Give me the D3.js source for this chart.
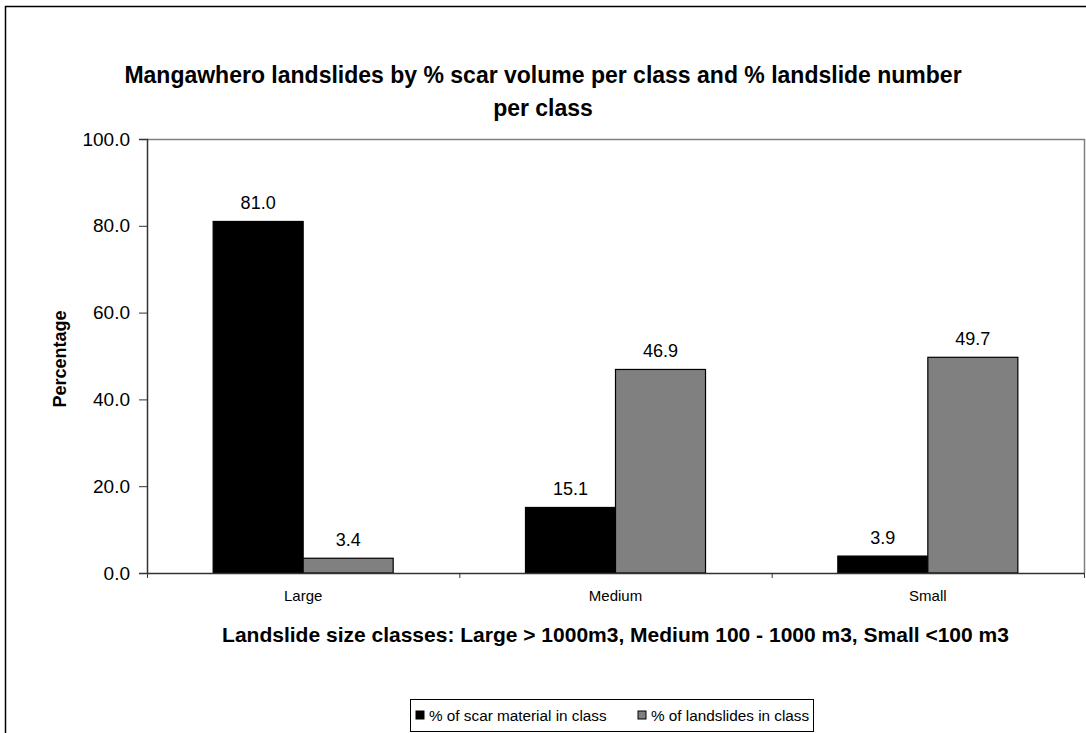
<!DOCTYPE html>
<html>
<head>
<meta charset="utf-8">
<script src="https://cdn.jsdelivr.net/npm/d3@7"></script>
<style>
  body { margin: 0; background: #fff; }
  svg { display: block; font-family: Arial, "Liberation Sans", sans-serif; }
  .axis path, .axis line { stroke: #333; }
  .axis text { fill: #000; }
</style>
</head>
<body>
<svg id="chart" width="1086" height="733"></svg>
<script>
// chart data
var categories = ["Large", "Medium", "Small"];
var seriesNames = ["% of scar material in class", "% of landslides in class"];
var scarPct = [81.0, 15.1, 3.9];
var landslidePct = [3.4, 46.9, 49.7];
var yTicks = [0, 20, 40, 60, 80, 100];
var seriesColors = ["#000000", "#808080"];

var svg = d3.select("#chart");

// plot area
var plotLeft = 147, plotRight = 1084, plotTop = 139, plotBottom = 573;

// outer chart border (top + left visible)
svg.append("rect")
  .attr("x", 5.5).attr("y", 6.5)
  .attr("width", 1100).attr("height", 740)
  .attr("fill", "none")
  .attr("stroke", "#000")
  .attr("stroke-width", 1.5);

var y = d3.scaleLinear().domain([0, 100]).range([plotBottom, plotTop]);

var x0 = d3.scaleBand()
  .domain(categories)
  .range([plotLeft, plotRight])
  .paddingInner(0.4236)
  .paddingOuter(0.2118);

var x1 = d3.scaleBand()
  .domain(seriesNames)
  .range([0, x0.bandwidth()]);

var xEdge = d3.scaleLinear().domain([0, categories.length]).range([plotLeft, plotRight]);

// plot frame top/right (grey)
svg.append("path")
  .attr("d", "M" + plotLeft + "," + (plotTop + 0.5) + "H" + (plotRight + 0.5) + "V" + plotBottom)
  .attr("fill", "none")
  .attr("stroke", "#808080")
  .attr("stroke-width", 1.5);

// rows of data, one group per category
var rows = categories.map(function(c, i) {
  return { cat: c, vals: [scarPct[i], landslidePct[i]] };
});

var groups = svg.selectAll("g.cat")
  .data(rows)
  .enter()
  .append("g")
  .attr("class", "cat")
  .attr("transform", function(d) { return "translate(" + x0(d.cat) + ",0)"; });

groups.selectAll("rect")
  .data(function(d) { return d.vals.map(function(v, j) { return { s: seriesNames[j], v: v, j: j }; }); })
  .enter()
  .append("rect")
  .attr("x", function(d) { return x1(d.s); })
  .attr("y", function(d) { return y(d.v); })
  .attr("width", x1.bandwidth())
  .attr("height", function(d) { return y(0) - y(d.v); })
  .style("fill", function(d) { return seriesColors[d.j]; })
  .attr("stroke", "#000")
  .attr("stroke-width", 1.2);

groups.selectAll("text.val")
  .data(function(d) { return d.vals.map(function(v, j) { return { s: seriesNames[j], v: v }; }); })
  .enter()
  .append("text")
  .attr("class", "val")
  .attr("x", function(d) { return x1(d.s) + x1.bandwidth() / 2; })
  .attr("y", function(d) { return y(d.v) - 12.5; })
  .attr("text-anchor", "middle")
  .style("font-size", "18px")
  .text(function(d) { return d.v.toFixed(1); });

// y axis
svg.append("g")
  .attr("class", "axis")
  .attr("transform", "translate(" + plotLeft + ",0)")
  .call(d3.axisLeft(y).tickValues(yTicks).tickSize(8).tickPadding(9).tickFormat(d3.format(".1f")))
  .call(function(g) { g.select(".domain").attr("stroke-width", 1.5); })
  .selectAll("text").style("font-size", "19px");

// x axis line + boundary ticks
svg.append("g")
  .attr("class", "axis")
  .attr("transform", "translate(0," + plotBottom + ")")
  .call(d3.axisBottom(xEdge).tickValues([0, 1, 2, 3]).tickSize(5).tickSizeOuter(0).tickFormat(""))
  .call(function(g) { g.select(".domain").attr("stroke-width", 1.5); });

// category labels
svg.append("g")
  .attr("class", "axis")
  .attr("transform", "translate(0," + plotBottom + ")")
  .call(d3.axisBottom(x0).tickSize(0).tickPadding(17))
  .call(function(g) { g.select(".domain").remove(); })
  .selectAll("text").style("font-size", "15px");

// titles
var title = svg.append("text")
  .attr("text-anchor", "middle")
  .style("font-size", "23px")
  .style("font-weight", "bold");
title.append("tspan").attr("x", 543).attr("y", 83)
  .text("Mangawhero landslides by % scar volume per class and % landslide number");
title.append("tspan").attr("x", 543).attr("y", 116)
  .text("per class");

svg.append("text")
  .attr("x", (plotLeft + plotRight) / 2)
  .attr("y", 642)
  .attr("text-anchor", "middle")
  .style("font-size", "21px")
  .style("font-weight", "bold")
  .text("Landslide size classes: Large > 1000m3, Medium 100 - 1000 m3, Small <100 m3");

svg.append("text")
  .attr("transform", "translate(66," + ((plotTop + plotBottom) / 2 + 3) + ") rotate(-90)")
  .attr("text-anchor", "middle")
  .style("font-size", "18px")
  .style("font-weight", "bold")
  .text("Percentage");

// legend
var legend = svg.append("g").attr("transform", "translate(410,699)");
legend.append("rect")
  .attr("x", 0.5).attr("y", 0.5)
  .attr("width", 403).attr("height", 32)
  .attr("fill", "#fff")
  .attr("stroke", "#000");

var legendX = [6, 228];
var items = legend.selectAll("g.item")
  .data(seriesNames)
  .enter()
  .append("g")
  .attr("class", "item")
  .attr("transform", function(d, i) { return "translate(" + legendX[i] + ",0)"; });

items.append("rect")
  .attr("x", 0).attr("y", 12)
  .attr("width", 8).attr("height", 8)
  .style("fill", function(d, i) { return seriesColors[i]; })
  .attr("stroke", "#000");

items.append("text")
  .attr("x", 13)
  .attr("y", 21.5)
  .style("font-size", "15.3px")
  .text(function(d) { return d; });
</script>
</body>
</html>
